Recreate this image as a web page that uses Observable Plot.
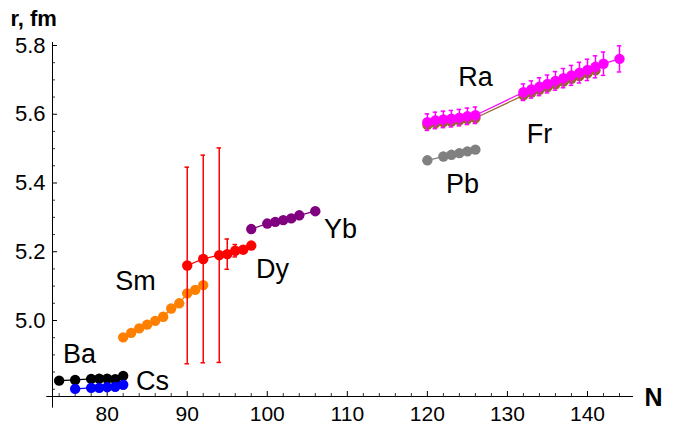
<!DOCTYPE html>
<html>
<head>
<meta charset="utf-8">
<script src="https://cdn.jsdelivr.net/npm/d3@7"></script>
<script src="https://cdn.jsdelivr.net/npm/@observablehq/plot@0.6"></script>
<style>
  html, body { margin: 0; padding: 0; background: #fff; }
</style>
</head>
<body>
<div id="chart"></div>
<script>
// ---- data (neutron number N, charge radius r in fm, error) ----
const baN = [74, 76, 78, 79, 80, 81, 82];
const baR = [4.825, 4.827, 4.830, 4.831, 4.831, 4.829, 4.839];

const csN = [76, 78, 79, 80, 81, 82];
const csR = [4.801, 4.804, 4.804, 4.806, 4.807, 4.813];

const smN = [82, 83, 84, 85, 86, 87, 88, 89, 90, 91, 92];
const smR = [4.951, 4.964, 4.977, 4.988, 4.999, 5.011, 5.035, 5.050, 5.079, 5.089, 5.103];

const dyN = [90, 92, 94, 95, 96, 97, 98];
const dyR = [5.160, 5.179, 5.190, 5.193, 5.203, 5.206, 5.218];
const dyE = [0.286, 0.302, 0.312, 0.044, 0.018, 0.010, 0.005];

const ybN = [98, 100, 101, 102, 103, 104, 106];
const ybR = [5.266, 5.282, 5.287, 5.292, 5.297, 5.306, 5.318];

const pbN = [120, 122, 123, 124, 125, 126];
const pbR = [5.466, 5.477, 5.482, 5.487, 5.492, 5.497];

const frN = [120, 121, 122, 123, 124, 125, 126, 132, 133, 134, 135, 136, 137, 138, 139, 140, 141];
const frR = [5.569, 5.574, 5.577, 5.579, 5.582, 5.586, 5.589, 5.655, 5.663, 5.671, 5.679, 5.687, 5.695, 5.703, 5.711, 5.719, 5.728];

const raN = [120, 121, 122, 123, 124, 125, 126, 132, 133, 134, 135, 136, 137, 138, 139, 140, 141, 142, 144];
const raR = [5.577, 5.582, 5.585, 5.587, 5.590, 5.594, 5.597, 5.664, 5.672, 5.680, 5.688, 5.697, 5.705, 5.713, 5.721, 5.729, 5.738, 5.747, 5.761];
const raE = [0.024, 0.024, 0.024, 0.024, 0.024, 0.024, 0.024, 0.024, 0.025, 0.026, 0.026, 0.027, 0.028, 0.029, 0.030, 0.031, 0.032, 0.034, 0.038];

const xMajor = [80, 90, 100, 110, 120, 130, 140];
const xMinor = [74, 76, 78, 82, 84, 86, 88, 92, 94, 96, 98, 102, 104, 106, 108, 112, 114, 116, 118, 122, 124, 126, 128, 132, 134, 136, 138, 142, 144];
const yMajor = [5.0, 5.2, 5.4, 5.6, 5.8];
const yMinor = [4.80, 4.85, 4.90, 4.95, 5.05, 5.10, 5.15, 5.25, 5.30, 5.35, 5.45, 5.50, 5.55, 5.65, 5.70, 5.75];

const labels = [
  {text: "Ba", N: 76.54, r: 4.8749},
  {text: "Cs", N: 85.66, r: 4.7964},
  {text: "Sm", N: 83.54, r: 5.0873},
  {text: "Dy", N: 100.65, r: 5.125},
  {text: "Yb", N: 109.15, r: 5.2414},
  {text: "Ra", N: 126.01, r: 5.6836},
  {text: "Fr", N: 134.01, r: 5.5149},
  {text: "Pb", N: 124.39, r: 5.3705}
];

// ---- build tables ----
function series(Ns, Rs, Es) {
  return Ns.map((N, i) => ({N, r: Rs[i], e: Es ? Es[i] : 0}));
}
const S = [
  {name: "Ba", color: "#000000", data: series(baN, baR)},
  {name: "Cs", color: "#0000ff", data: series(csN, csR)},
  {name: "Sm", color: "#ff8000", data: series(smN, smR)},
  {name: "Dy", color: "#ff0000", data: series(dyN, dyR, dyE), err: true},
  {name: "Yb", color: "#800080", data: series(ybN, ybR)},
  {name: "Pb", color: "#808080", data: series(pbN, pbR)},
  {name: "Fr", color: "#996633", data: series(frN, frR)},
  {name: "Ra", color: "#ff00ff", data: series(raN, raR, raE), err: true}
];

const xMin = 73.17, xMax = 145.75, yMin = 4.7789, yMax = 5.8087;
const font = "'Liberation Sans', Arial, Helvetica, sans-serif";

const marks = [];
// axes
marks.push(Plot.ruleY([yMin], {x1: 72.45, x2: xMax, stroke: "#000", strokeWidth: 1}));
marks.push(Plot.ruleX([xMin], {y1: 4.745, y2: yMax, stroke: "#000", strokeWidth: 1}));
marks.push(Plot.ruleX(xMinor, {x: d => d, y1: yMin, y2: yMin + 3 / 343.75, stroke: "#000", strokeWidth: 0.8}));
marks.push(Plot.ruleX(xMajor, {x: d => d, y1: yMin, y2: yMin + 5 / 343.75, stroke: "#000", strokeWidth: 1}));
marks.push(Plot.ruleY(yMinor, {y: d => d, x1: xMin, x2: xMin + 3 / 8.005, stroke: "#000", strokeWidth: 0.8}));
marks.push(Plot.ruleY(yMajor, {y: d => d, x1: xMin, x2: xMin + 5 / 8.005, stroke: "#000", strokeWidth: 1}));
marks.push(Plot.text(xMajor, {x: d => d, y: yMin, text: d => String(d), dy: 10, lineAnchor: "top", fontSize: 21, fill: "#000"}));
marks.push(Plot.text(yMajor, {x: xMin, y: d => d, text: d => d.toFixed(1), dx: -7, textAnchor: "end", fontSize: 22, fill: "#000"}));

// series
for (const s of S) {
  marks.push(Plot.line(s.data, {x: "N", y: "r", stroke: s.color, strokeWidth: 1.3}));
  if (s.err) {
    marks.push(Plot.ruleX(s.data, {x: "N", y1: d => d.r - d.e, y2: d => d.r + d.e, stroke: s.color, strokeWidth: 1.5}));
    marks.push(Plot.ruleY(s.data, {y: d => d.r - d.e, x1: d => d.N - 0.28, x2: d => d.N + 0.28, stroke: s.color, strokeWidth: 1.5}));
    marks.push(Plot.ruleY(s.data, {y: d => d.r + d.e, x1: d => d.N - 0.28, x2: d => d.N + 0.28, stroke: s.color, strokeWidth: 1.5}));
  }
  marks.push(Plot.dot(s.data, {x: "N", y: "r", r: 5.2, fill: s.color, stroke: "none"}));
}

// labels
marks.push(Plot.text(labels, {x: "N", y: "r", text: "text", fontSize: 27, lineAnchor: "bottom", textAnchor: "middle", fill: "#000"}));
marks.push(Plot.text(["r, fm"], {x: 67.92, y: 5.858, text: d => d, fontSize: 22, fontWeight: "bold", textAnchor: "start", lineAnchor: "bottom", fill: "#000"}));
marks.push(Plot.text(["N"], {x: 148.25, y: 4.7527, text: d => d, fontSize: 25, fontWeight: "bold", textAnchor: "middle", lineAnchor: "bottom", fill: "#000"}));

const chart = Plot.plot({
  width: 676,
  height: 426,
  marginLeft: 52,
  marginRight: 43,
  marginTop: 42,
  marginBottom: 30,
  x: {domain: [xMin, xMax], axis: null},
  y: {domain: [yMin, yMax], axis: null},
  style: {fontFamily: font, background: "#fff", overflow: "visible"},
  marks
});
document.getElementById("chart").appendChild(chart);
</script>
</body>
</html>
